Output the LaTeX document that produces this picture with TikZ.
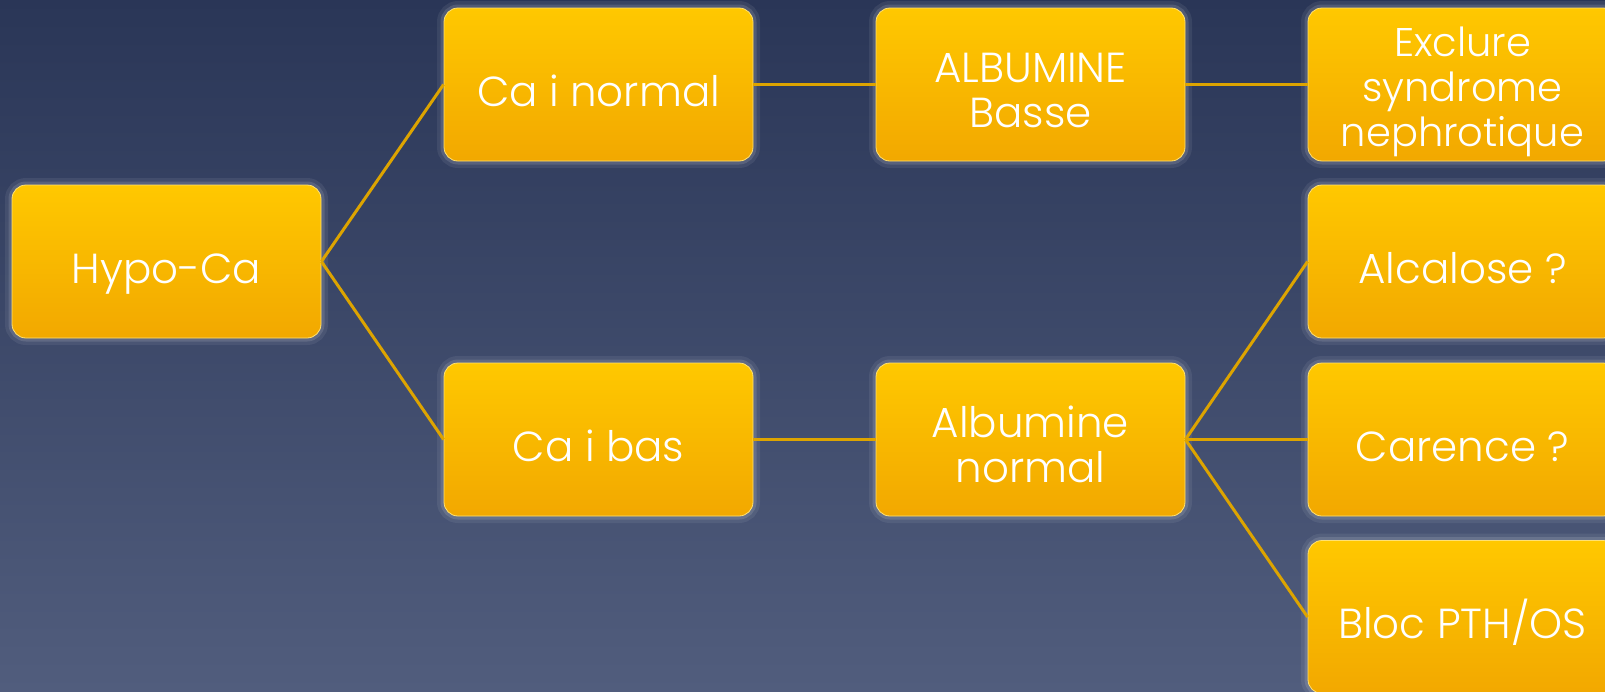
\documentclass[tikz,border=0pt]{standalone}
\usepackage{fontspec}
\setmainfont{Poppins}[UprightFont={* Light}]
\definecolor{bgtop}{HTML}{2A3657}
\definecolor{bgbot}{HTML}{515D7D}
\definecolor{boxtop}{HTML}{FFC800}
\definecolor{boxbot}{HTML}{F2A800}
\definecolor{linkc}{HTML}{DDA400}
\newcommand\firstline[1]{\rule{0pt}{#1}}
\begin{document}
\begin{tikzpicture}[x=1pt,y=-1pt,
  box/.style={rounded corners=14pt, minimum width=309pt, minimum height=153pt,
    top color=boxtop, bottom color=boxbot, draw=boxtop!55!white, line width=0.8pt,
    text=white, align=center, inner sep=0pt,
    font=\fontsize{42}{45}\selectfont,
    preaction={draw=white, line width=14pt, draw opacity=0.07},
    preaction={draw=white, line width=7pt, draw opacity=0.12}},
  one/.style={text height=43pt, text depth=0pt},
  small/.style={font=\fontsize{40}{45}\selectfont},
  link/.style={draw=linkc, line width=3pt}]
\useasboundingbox (0,0) rectangle (1605,691);
\shade[top color=bgtop, bottom color=bgbot] (0,0) rectangle (1605,691);

\node[box,one] (h)  at (166.5,261.5) {Hypo-Ca};
\node[box,one] (n1) at (598.5,84.5) {Ca i normal};
\node[box,one] (n2) at (598.5,439.5) {Ca i bas};
\node[box] (a1) at (1030.5,84.5) {\firstline{42pt}ALBUMINE\\Basse};
\node[box] (a2) at (1030.5,439.5) {\firstline{42pt}Albumine\\normal};
\node[box,small] (e) at (1462.5,84.5) {\firstline{44pt}Exclure\\syndrome\\nephrotique};
\node[box,one] (r1) at (1462.5,261.5) {Alcalose ?};
\node[box,one] (r2) at (1462.5,439.5) {Carence ?};
\node[box,one] (r3) at (1462.5,617) {Bloc PTH/OS};

\draw[link] (h.east) -- (n1.west);
\draw[link] (h.east) -- (n2.west);
\draw[link] (n1.east) -- (a1.west);
\draw[link] (n2.east) -- (a2.west);
\draw[link] (a1.east) -- (e.west);
\draw[link] (a2.east) -- (r1.west);
\draw[link] (a2.east) -- (r2.west);
\draw[link] (a2.east) -- (r3.west);
\end{tikzpicture}
\end{document}
